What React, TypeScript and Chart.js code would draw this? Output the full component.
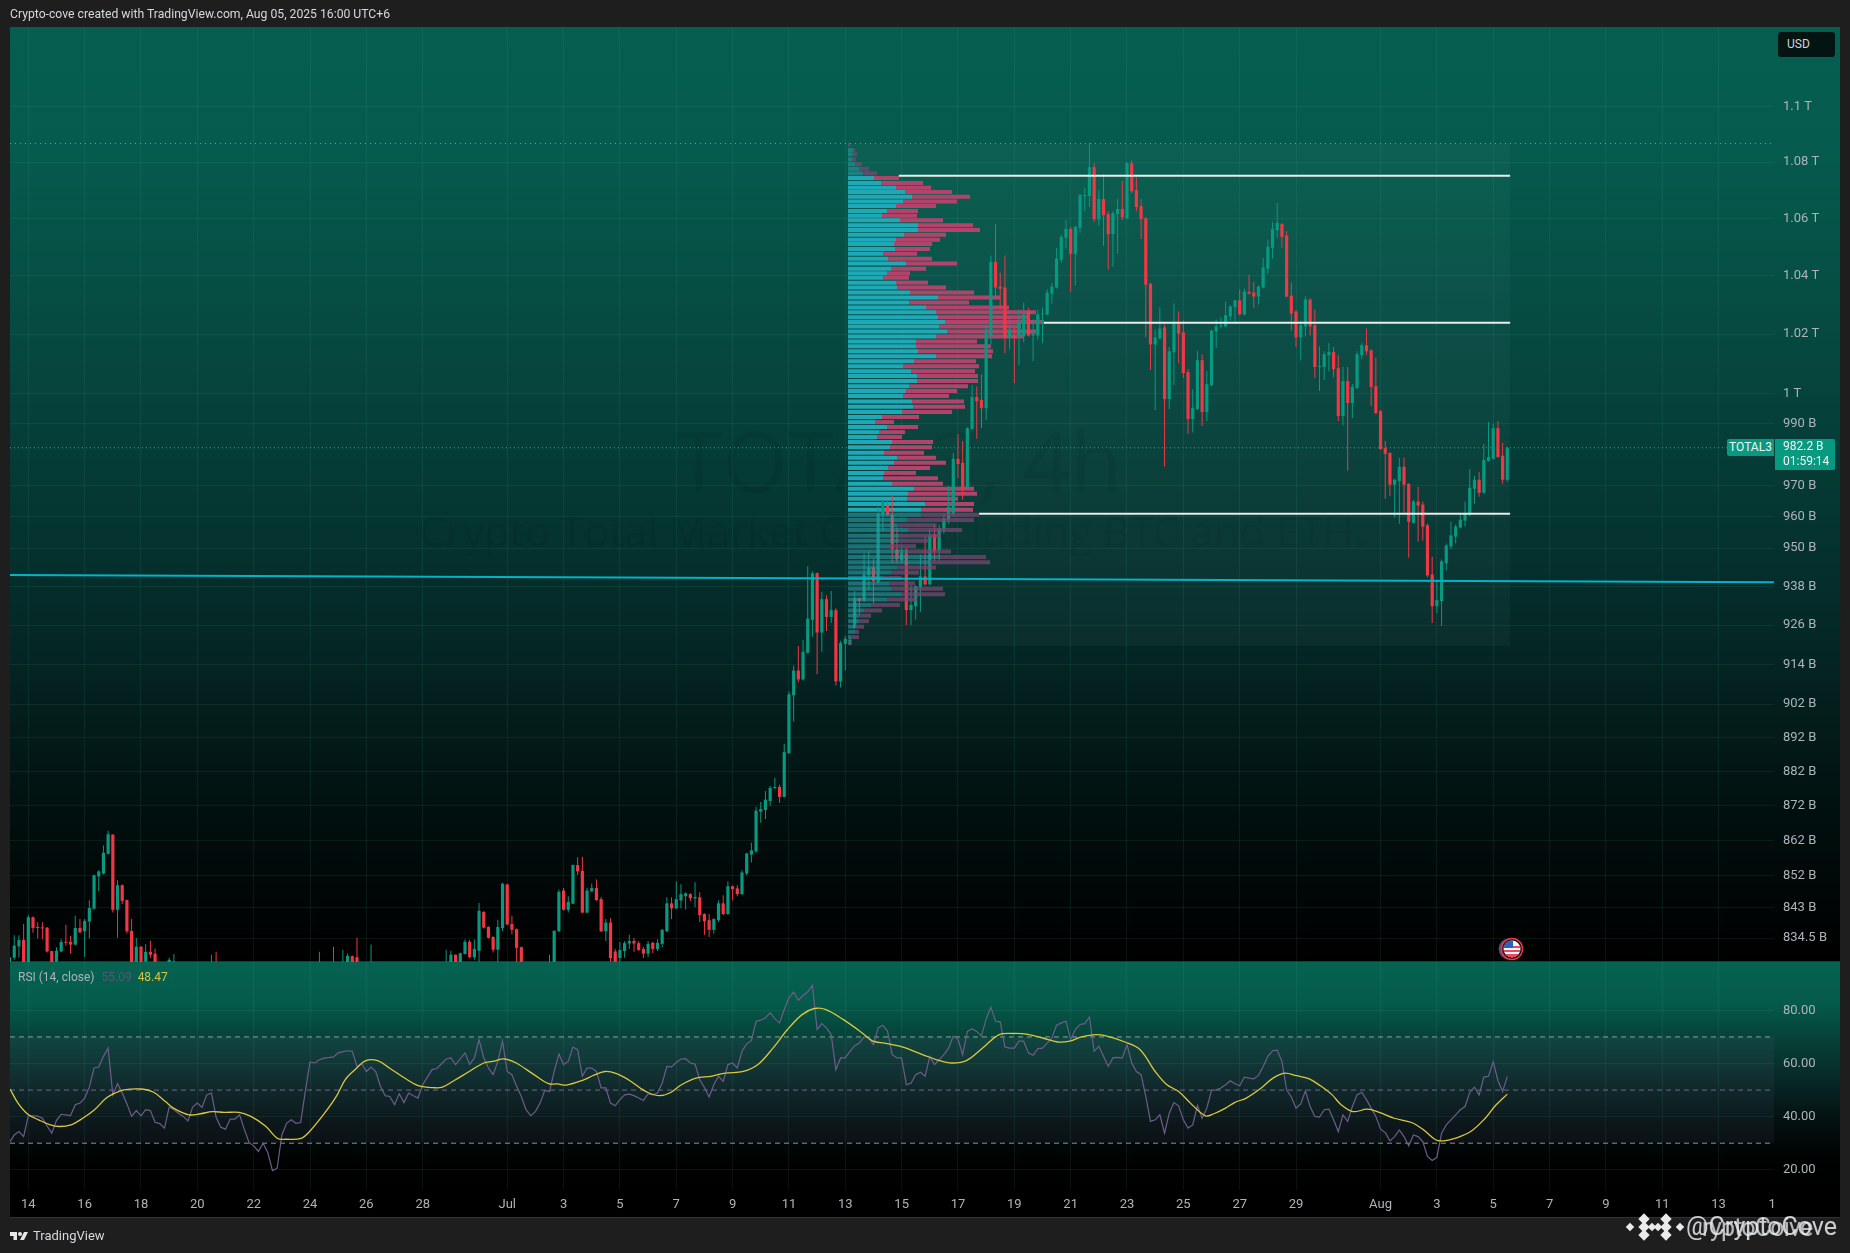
import React, { useEffect, useRef } from "react";
import { Chart, registerables } from "chart.js";

Chart.register(...registerables);

// ---------- candles (4H), prices in billions of USD ----------
const opens = [
  826,829.1,832.2,834,827,840.3,837.5,837.5,837.4,830.9,
  828,830.8,833.4,833.5,832.7,837.3,836.4,839.1,842.7,851.8,
  852.6,858.2,863.7,842.4,849.3,845.1,836.5,827.5,832.1,828,
  830.7,830.2,827,825,826,826,826,823,821,823,
  822,820,822,824,827,824,821,819,821,820,
  817,819,816,814,816,815,813,815,818,817,
  820,819,822,821,824,823,824,827,824,825,
  827,825,826,829.5,829.2,826,823,825,827,823,
  824,821,823,820,822,821,824,822,824,823,
  825,824,825,825,827,829.9,827,830.1,833.5,829.2,
  831,841.8,837.6,834.8,831.3,837.3,849.5,838.4,837,832,
  827,824,825,822,824,827,825.5,836.4,847.8,842.4,
  844.1,855,853.4,841.6,847.6,848.5,845.4,836.4,838.8,830.8,
  829,830.9,833,833.7,833.1,831.5,830.2,833.2,831.5,832.9,
  836.4,844.2,842.8,845,846.2,846.8,845.6,845.9,841.2,839.5,
  836.8,839.5,844.2,841.2,849,848.4,846.8,852.6,858,858.9,
  870.3,870.8,873.4,877.2,877.5,874.6,887.4,904.6,912.1,909.4,
  917.5,927.6,942.1,923.7,934,928.5,930.6,908.8,920.2,920,
  925.1,934.3,933.4,941.4,943.9,939.3,960.6,963.5,960.6,949.6,
  946.1,948.3,930.6,931.8,937.7,941.1,938.6,954.3,949.3,955.9,
  959,960.9,978.6,977.3,969.2,988.3,998.9,997.9,995.2,1019.2,
  1044.8,1036.2,1035.9,1018.9,1019.5,1019.2,1019.2,1027.7,1019.5,1019.5,
  1026.7,1026.7,1033.8,1035.9,1045.5,1053.2,1056.3,1047.6,1056.7,1067.9,
  1067.9,1078.2,1059.7,1066.8,1061.5,1054.5,1061.5,1063.3,1060,1079.6,
  1070,1064.3,1060,1037.2,1016.5,1018.5,1022.3,998.2,1013.9,1023.6,
  1020.6,1007.2,991.6,994.9,1011.2,993.9,1002.9,1020.9,1022.6,1022.6,
  1026,1029.1,1031.5,1026.7,1034.5,1034.2,1032.8,1035.9,1042.4,1049.7,
  1055.9,1058,1053.9,1033.1,1027.7,1018.9,1022.6,1031.8,1023,1008.9,
  1008.9,1012.9,1013.9,1008.5,992.6,1004.2,996.9,1001.9,1012.9,1016.2,
  1014.5,1002.5,994.2,982.1,980.5,970.2,971.4,976,970.5,958,
  964.8,963.8,957.2,941.7,931.8,933.4,945.2,950.5,953.6,956.5,
  958.7,960.6,968.9,971.8,967.6,977.9,978.6,988.6,979.6,971.8,
];
const closes = [
  829.2,832.4,834,826,840.3,837.3,837.3,837.2,830.8,827.5,
  831,833.4,833.2,832.7,837.3,836.1,839.3,842.9,852.1,853.2,
  858.5,863.8,842.4,849.3,844.9,836.4,827.5,832.1,827.8,830.7,
  829.9,827,825,824,828.5,828,823,821,823,822,
  820,822,824,827,824,821,819,821,820,817,
  819,816,814,816,815,813,815,818,817,820,
  819,822,821,824,823,825,827,824,825,827.5,
  824,827.8,829.6,826,826,823,825,827.5,823,824,
  821,823,820,822,821,824,822,824,823,825,
  824,825,825.5,827.5,829.9,827,830.3,833.5,829.3,831.5,
  842.1,837.4,834.6,831.3,837.6,849.7,838.3,836.8,831.8,827,
  824,825,822,824,823,824,836.5,847.4,842.4,844.6,
  855,853.2,841.6,847.8,848.5,845.1,836.4,838.8,829,827,
  831.2,833.1,833.7,833,831.2,830.2,832.9,831.5,833.2,836.8,
  844.2,842.8,845.4,846.8,847,845.6,846,840.9,839.2,836.8,
  839.8,844.2,841.2,849,848.2,846.8,852.9,858.3,859.2,870.6,
  871.1,873.8,877.2,877.5,874.6,887.7,904.9,912.1,909.4,917.8,
  928,942,923.7,934,928.5,930.6,908.8,920.5,921.8,921.5,
  934.3,933.4,941.7,943.9,939.6,960.9,964.8,960.6,949.6,946.4,
  948.3,930.6,932.2,938,941.1,938.6,954,949,956.2,959.3,
  963.1,978.6,976.9,969.2,988.6,998.9,997.5,995.2,1021.6,1044.8,
  1035.9,1035.5,1018.9,1021.6,1018.9,1024.3,1026.7,1019.5,1020.2,1026.7,
  1027,1034.2,1036.2,1045.9,1053.5,1056.3,1047.6,1057,1068.2,1068.2,
  1078.2,1059.7,1066.8,1061.1,1054.5,1061.8,1063.3,1060.4,1079.6,1069.6,
  1064,1059.7,1036.9,1016.5,1018.9,1021.9,998.2,1014.2,1023.6,1020.2,
  1006.9,991.6,995.2,1011.2,993.9,1003.2,1021.2,1022.6,1022.9,1026.4,
  1029.4,1031.5,1026.7,1034.5,1033.8,1032.8,1036.2,1042.8,1050,1056.3,
  1058.4,1053.5,1032.8,1027,1018.9,1023,1031.8,1022.6,1008.9,1009.2,
  1013.2,1013.9,1008.2,992.6,1004.2,996.9,1002.2,1013.2,1016.2,1014.2,
  1002.2,993.6,981.8,980.2,970.2,971.8,976,970.2,958.3,964.8,
  963.5,956.8,941.4,931.8,933.7,945.8,950.8,954,956.8,959,
  960.9,969.2,971.8,967.6,978.2,979.2,988.6,979.2,971.8,982.2,
];
const highs = [
  829.5,835.3,835.3,838.4,840.9,840.5,838.9,838.9,837.6,831,
  832,834.2,838.2,835.1,840.7,839.8,839.8,845.1,852.3,853.5,
  860.6,864.8,863.8,850.7,849.5,845.3,839.8,834.5,832.3,832.8,
  833.8,831.6,827.5,826.5,829.1,830.1,826.5,824,824,825,
  824,823,825,829.9,830.7,825,823,822,823,821,
  820,820,818,817,818,817,816,819,821,821,
  822,823,824,825,826,826,830.7,827.5,826,832.1,
  827.5,831.3,830.3,829.7,834.6,827,826,832.7,827.5,825,
  825,824,824,823,824,825,825,825,826,826,
  826,826,826.5,831.3,831,830,830.5,834.1,834,834.1,
  844.3,842,837.8,835,839.6,850,849.7,840.7,837.2,832.2,
  827.5,826,826,825,825,829.9,836.7,848.1,848.5,846.2,
  855.2,857.2,857.4,848.6,849.8,850.9,846,839.8,840,831.5,
  833.4,833.7,835.4,834.5,833.7,832.1,833.7,833.5,834.2,837,
  845.9,845.9,850.4,849.6,847.3,847,850.1,847.3,841.4,841.2,
  840,845,846.5,850.4,849.2,849.3,853.5,858.5,861.4,871.7,
  873.1,876.3,877.8,880.1,878.1,890.1,905.8,913.6,919.6,921.5,
  944.3,942.7,942.3,936.2,935.2,936.5,931.2,921.2,922.7,921.8,
  936.5,934.5,948.3,948.9,946.7,963.2,965.1,965.1,966.6,956.5,
  950.5,950.2,938.3,938.3,948,953.6,956.2,957.2,957.5,960.9,
  969.9,980.5,986.7,984.4,988.9,1002.9,1002.5,1006.5,1023.3,1047,
  1058,1041,1047,1026,1022.3,1028.4,1030.8,1029.1,1025,1028.4,
  1029.1,1035.2,1037.6,1049.7,1054.2,1059.4,1057,1057.4,1068.6,1070.7,
  1086.9,1079.6,1070,1075.7,1062.5,1062.5,1066.8,1073.2,1080,1080.7,
  1074.6,1066.8,1060.4,1037.6,1021.6,1029.1,1023.3,1015.6,1030.4,1027.7,
  1024.6,1008.2,1001.5,1014.5,1013.2,1007.5,1021.6,1025,1025.7,1031.1,
  1029.8,1031.6,1035.2,1035.6,1040.3,1037.9,1036.6,1046.2,1052.5,1058.7,
  1065.4,1058.4,1055.6,1037.6,1028,1024.6,1032.8,1032.1,1028.4,1015.9,
  1014.2,1016.9,1015.6,1012.9,1008.9,1008.9,1003.2,1014.2,1016.9,1021.9,
  1014.9,1011.9,994.6,984.4,980.7,972.1,978.9,978.9,970.7,965.4,
  969.5,964.8,957.7,947.3,939.9,946.4,951.4,958.4,957.5,960.9,
  964.8,975.3,973.1,974.3,983.5,990.6,990,991,983.8,982.5,
];
const lows = [
  824,828.5,829.1,825,825,836,834.4,834.2,830.5,826,
  826,830.6,832.4,830.2,832.5,835.9,829.3,834.4,842.5,847.6,
  852.3,858,841.6,834.6,844,835.8,826,826,826.5,827,
  829,826,824,823,825,825,822,820,820,821,
  819,819,821,823,823,820,818,818,819,816,
  815,815,813,813,814,812,811,814,816,816,
  818,818,820,820,822,822,822,823,822,824,
  823,824,825,825,825,822,822,824,822,821,
  820,820,819,819,820,820,821,821,822,822,
  823,823,824,824,826,826,826.5,830,829,828.5,
  827,837.2,834.4,830.5,827,836.5,838.1,835.5,827,826,
  823,822,821,821,821,823,825,836.2,842.2,841.6,
  844,852.2,841.4,841.4,847.4,844.9,836.2,833.6,828,826,
  827,829.1,831.5,830.7,831,829,829.3,830.4,830.9,832,
  836.2,839.8,842.6,842.8,842.5,844.8,843.1,839,835.4,834.8,
  835.7,839,840.9,841,845,846.2,846.5,852.1,855.7,858.5,
  867.1,868.2,872,876.9,872.9,874.4,887.2,896.8,908.5,909.2,
  917.3,922.4,911,917.8,924.2,926.6,907.6,907,912.1,919.8,
  925,929.1,933.2,936.8,932.7,939,955.3,960.2,945.2,945.2,
  945.2,926,926,927.6,930,938.3,938.3,945.8,945.8,954.6,
  957.7,960,972.4,965.4,969,988.2,985.1,988.6,991.3,1016.5,
  1031.8,1028.4,1013.5,1014.9,1003.5,1009.5,1017.2,1019.2,1010.8,1018.2,
  1016.9,1026.3,1030.4,1035.6,1044.5,1049.4,1034.5,1036.6,1054.9,1062.5,
  1064,1058.7,1057.4,1050.4,1042.1,1043.1,1047.6,1059.4,1059.8,1068.9,
  1062.5,1052.8,1018.9,1007.9,994.6,1018.2,976,994.9,1002.9,1010.2,
  1005.2,986.7,987.3,994.6,989.3,991,1002.5,1015.2,1021.9,1022.3,
  1024.6,1024.3,1026.3,1026.3,1033.5,1028.8,1030.1,1035.6,1040.7,1045.9,
  1053.2,1049.7,1032.6,1021.2,1015.6,1011.2,1019.2,1019.5,1005.2,1000.9,
  1004.5,1007.5,1005.5,991,989.6,974.7,991.9,1001.5,1011.5,1012.9,
  995.9,993.2,981.5,965.7,966.6,959.6,957.7,961.2,947,957.7,
  952,952.4,940.8,926.6,929.7,925.7,943,949.6,951.4,956.2,
  956.8,960.2,964.1,966.3,967.3,977.6,978.3,978.9,970.5,971.1,
];

// ---------- RSI (14) and its moving average ----------
const rsiValues = [
  30.3,33.1,34.4,32.5,40.3,40.3,40.2,39.4,36.5,33.8,
  38.6,40.9,40.7,40.4,44.5,45.1,47,51.1,58.3,58.7,
  62.7,65.8,48.2,52.4,48.9,44.8,40.1,42.3,40.3,42.6,
  42.3,37.9,37.4,35.7,43.6,42.6,41.3,40.1,38.4,43.6,
  45.1,43.5,48.2,48.9,39.8,36,35.3,39.1,39.1,40.7,
  35.3,30.3,29,26.9,30,26.5,19.7,20.6,33.1,37.5,
  38.8,37.5,37.8,49.5,60.6,60.2,61.4,62,62.2,62.5,
  64,64.5,64.8,64.6,58.9,59.9,57,58.7,57,51.4,
  47.9,47.6,44.5,48.6,45.3,48.9,47.9,47,52,54.9,
  57.7,58.1,59.9,61.7,62.1,59.6,61.7,64,59.6,62.1,
  69,62.1,58.3,55.8,60.8,68.4,57,55.8,51.4,47.6,
  42.6,40.4,41.9,45.1,49.9,49.5,57,63.6,59.6,60.8,
  66.2,65.2,55.2,58.3,58.3,57,50.8,50.8,45.1,44.1,
  46.4,48.2,48.5,47.9,47,46.1,48.6,48.2,48.9,52.6,
  58.9,58.7,60.4,61.7,61.8,60.2,59.8,53.9,51,47.4,
  52,55.2,53.3,59.6,60.2,58.3,64.6,67.4,68.6,75.9,
  76.3,77.2,79.1,76.8,75.3,80.3,84.7,86.9,83.8,85.6,
  87,89.4,72.8,75,73.4,70.9,57.7,62.1,62.1,64.6,
  66.7,67.7,70,69.6,67.1,73.4,74.4,72.1,63.3,62.1,
  62.1,52,52.6,55.8,56.7,55.2,62.7,59.6,61.4,63.3,
  65.8,70.3,69.2,63.3,72.1,73.1,72.1,70.3,76.8,81.2,
  75.9,75.7,66.2,65.8,65.8,68.4,68.4,64,63.1,65.6,
  65.8,67.7,69.6,74.4,75.3,75.9,69,72.8,74.7,75,
  77.5,64.6,66.5,62.7,58.9,62.1,62.3,62,67.1,60.2,
  57,55.8,47.6,38.2,38.8,40.7,33.8,41.3,45.3,44.1,
  38.8,35.7,36.9,44.2,39.4,43.2,49.9,50.1,50.8,52,
  53.5,52.4,51.6,54.9,54.5,54.2,55.5,58.9,62.7,64.8,
  65,60.8,50.1,47.4,43.2,44.8,49.7,43.8,40.1,39.8,
  42.6,42.8,38.8,34.4,40.7,38.2,43.8,48.2,49.2,46.4,
  43.2,40.1,35.3,34,30.9,32.5,35,32.5,29,33.1,
  32.5,30.6,25,23.5,24.7,33.8,36.9,38.8,40.7,42.6,
  43.8,49.1,51.1,48.2,54.9,55.2,60.6,53.6,49.5,55.09,
];
const smaIndex = [
  0.1,1.8,3.9,6.2,8.7,10.6,13.1,15.6,18.1,20.6,22.5,24.4,28.1,30.7,33.2,35.1,38.2,40.7,43.2,45.7,
  48.9,51.4,54.5,57,58.9,62.1,63.9,67.1,69.6,71.5,73.4,75.9,78.4,80.9,84.7,87.2,90.3,92.2,94.7,97.9,
  101,102.9,105.4,107.9,111.7,114.8,116.7,118.6,122.4,124.2,126.8,129.3,131.8,134.3,136.2,138.4,140.6,143.1,146.2,149.4,
  152.5,156.3,159.4,162.6,165.7,168.8,171.4,173.9,177.6,181.4,183.9,186.4,189.6,192.7,195,197.5,200.6,203.8,207.5,210.7,
  213.8,216.9,220.1,223.2,225.8,228.3,230.8,233.3,237.7,240.8,244,246.5,249,251.5,254.7,256.5,259,260.9,263.4,266.6,
  269.1,271.6,274.1,276.7,279.2,281.7,283.6,286.1,289.2,291.7,294.9,298.6,301.2,303.7,305.5,308,311.2,314.3,316.3,319,
];
const smaValues = [
  50.4,45.1,40.9,38.8,36.9,36.3,36.9,39.4,42.6,47,48.9,50.1,50.4,49.2,45.7,43,40.7,41.1,41.9,41.6,
  41.6,40.1,36.5,31.9,31.5,31.8,34.4,41.3,47.6,53.9,57.4,61.1,61.1,58.3,53.9,51.6,50.9,51.1,53.6,57,
  60.2,60.8,61.7,60.2,55.8,52.4,52.3,51.9,53.9,55.4,57,56.2,53.9,50.8,48.9,47.9,48.9,52,54.5,55.2,
  56.4,57,59.6,65.8,72.8,78.4,80.7,80.3,76.5,71.8,68.4,67.7,66.5,64.6,63,61.4,60.2,61.1,66.2,70.8,
  71.3,71,69.6,68.1,68.4,70,70.8,70.5,68,65.2,57,52,49.5,45.1,40.3,41.1,43.2,45.3,47,50.8,
  54.5,56.4,55.4,54.3,51.6,48.2,44.5,41.9,42.8,41.6,39.4,37.8,35,31.3,30.9,31.9,34.4,39.4,43.8,48.47,
];

// ---------- volume profile ----------
const profilePrices = [
  1086.3,1084.3,1082.8,1081,1079.3,1077.6,1076,1074.3,1072.5,1070.8,1069.3,1067.6,1066,1064.4,1062.6,1060.9,1059.3,1057.6,1055.9,1054.2,
  1052.5,1051,1049.3,1047.6,1045.9,1044.2,1042.4,1040.8,1039.3,1037.6,1035.9,1034.2,1032.5,1030.8,1029.1,1027.4,1025.7,1024.1,1022.6,1020.9,
  1019.2,1017.5,1015.9,1014.2,1012.5,1010.8,1009.2,1007.5,1005.9,1004.2,1002.5,1000.9,999.2,997.4,995.7,993.9,992.3,990.6,989,987.3,
  985.7,984.1,982.4,980.6,978.9,977.3,975.6,974,972.3,970.5,968.9,967.3,965.7,964,962.2,960.6,958.9,957.2,955.7,953.9,
  952.3,950.6,948.9,947.2,945.5,943.9,942.3,940.6,938.9,937.2,935.5,933.9,932.2,930.5,928.9,927.2,925.5,923.9,922.3,920.6,
];
const volumeUp = [
  0,14,14,12,21,33,44,78,99,144,171,192,165,144,117,102,156,210,210,168,
  144,138,141,105,120,174,129,117,105,144,147,186,270,183,234,264,270,291,273,297,
  264,204,204,210,264,198,165,189,207,207,183,174,165,192,195,162,102,81,117,93,
  87,132,126,108,147,138,120,108,105,132,198,180,177,231,219,219,177,147,180,153,
  153,126,180,276,243,147,129,105,124,129,159,118,71,48,33,33,21,21,9,0,
];
const volumeDown = [
  6,7,13,12,21,30,43,75,126,105,141,174,162,120,93,105,129,165,186,126,
  132,114,105,102,132,153,105,69,78,96,147,192,186,180,249,300,270,297,246,267,
  264,183,225,225,168,186,228,192,183,183,177,153,138,156,156,150,111,57,93,78,
  75,123,126,120,117,156,126,96,165,153,180,207,153,147,156,174,201,119,162,126,
  87,78,129,138,183,117,84,55,77,156,132,89,85,54,36,30,27,12,24,9,
];

// ---------- axes, levels, labels ----------
const priceTicks = [1100,1080,1060,1040,1020,1000,990,970,960,950,938,926,914,902,892,882,872,862,852,843,834.5];
const priceLabels = ["1.1 T","1.08 T","1.06 T","1.04 T","1.02 T","1 T","990 B","970 B","960 B","950 B","938 B","926 B","914 B","902 B","892 B","882 B","872 B","862 B","852 B","843 B","834.5 B"];
const rsiTicks = [20,40,60,80];
const dateTickIndex = [4,16,28,40,52,64,76,88,106,118,130,142,154,166,178,190,202,214,226,238,250,262,274,292,304,316,328,340,352,364,375.4];
const dateTickLabels = ["14","16","18","20","22","24","26","28","Jul","3","5","7","9","11","13","15","17","19","21","23","25","27","29","Aug","3","5","7","9","11","13","1"];
const whiteLevels = [1075.1,1023.85,960.9];
const whiteLevelStarts = [189.4,220.3,206.5];
const trendLine = { x: [0.1,375.8], y: [941.5,939.3] };
const profileBox = { left: 178.6, right: 319.6, top: 1086.7, bottom: 919.6 };
const lastPrice = 982.2;
const rangeHigh = 1086.7;
const rsiBands = [70,50,30];
const X_MIN = 0.1, X_MAX = 375.8;

const UP = "#089981", DOWN = "#f23645";
const AXIS_FONT = { family: "Roboto, 'Open Sans', sans-serif", size: 13 };
const AXIS_COLOR = "#aeb3ba";
const GRID = "rgba(110,210,190,0.085)";

const idx = opens.map((_, i) => i);
const candleColor = idx.map((i) => (closes[i] >= opens[i] ? UP : DOWN));
const isBright = (p: number) => p <= 1075 && p >= 961.5;

function level(xs: number[], ys: number[], color: string, width: number, dash: number[], axis = "y", order = 0) {
  return {
    type: "line" as const,
    data: xs.map((x, i) => ({ x, y: ys[i] })),
    borderColor: color,
    borderWidth: width,
    borderDash: dash,
    pointRadius: 0,
    yAxisID: axis,
    xAxisID: "x",
    order,
    tension: 0,
  };
}

function profileDataset(bright: boolean, part: "up" | "down", color: string, order: number) {
  const data: any[] = [];
  profilePrices.forEach((p, i) => {
    if (isBright(p) !== bright) return;
    const a = volumeUp[i];
    const b = volumeDown[i];
    data.push({ y: p, x: part === "up" ? [0, a] : [a, a + b] });
  });
  return {
    type: "bar" as const,
    indexAxis: "y" as const,
    data,
    backgroundColor: color,
    barThickness: 4,
    grouped: false,
    xAxisID: "xVol",
    yAxisID: "y",
    order,
    inflateAmount: 0,
    minBarLength: 0,
  };
}

const panelPlugin = {
  id: "panels",
  beforeDraw(chart: any) {
    const c = chart.ctx as CanvasRenderingContext2D;
    const x0 = 10, x1 = 1840;
    const g = c.createLinearGradient(0, 27, 0, 962);
    g.addColorStop(0, "#055e50");
    g.addColorStop(0.12, "#055c4e");
    g.addColorStop(0.3, "#064c43");
    g.addColorStop(0.43, "#053f39");
    g.addColorStop(0.65, "#042826");
    g.addColorStop(0.75, "#031c1a");
    g.addColorStop(0.84, "#01100f");
    g.addColorStop(0.93, "#010606");
    g.addColorStop(1, "#000000");
    c.fillStyle = g;
    c.fillRect(x0, 27, x1 - x0, 935);
    const r = c.createLinearGradient(0, 962, 0, 1190);
    r.addColorStop(0, "#056352");
    r.addColorStop(0.18, "#055a4b");
    r.addColorStop(0.33, "#064238");
    r.addColorStop(0.5, "#072a28");
    r.addColorStop(0.68, "#031312");
    r.addColorStop(0.85, "#000303");
    r.addColorStop(1, "#000000");
    c.fillStyle = r;
    c.fillRect(x0, 962, x1 - x0, 228);
    c.fillStyle = "#000000";
    c.fillRect(x0, 1190, x1 - x0, 27);
    c.fillStyle = "#2f3236";
    c.fillRect(x0, 961, x1 - x0, 1);
    c.fillRect(x0, 1217, x1 - x0, 1);
  },
  beforeDatasetsDraw(chart: any) {
    const c = chart.ctx as CanvasRenderingContext2D;
    const { x, y, yr } = chart.scales;
    c.save();
    c.fillStyle = "rgba(0,0,0,0.055)";
    c.textAlign = "center";
    c.textBaseline = "middle";
    c.font = "84px 'Open Sans', sans-serif";
    c.fillText("TOTAL3, 4h", 899, 468);
    c.font = "42px 'Open Sans', sans-serif";
    c.fillText("Crypto Total Market Cap Excluding BTC and ETH.", 892, 535);
    // box of the fixed range volume profile
    const bx = x.getPixelForValue(profileBox.left);
    const bw = x.getPixelForValue(profileBox.right) - bx;
    const by = y.getPixelForValue(profileBox.top);
    const bh = y.getPixelForValue(profileBox.bottom) - by;
    c.fillStyle = "rgba(160,220,210,0.045)";
    c.fillRect(bx, by, bw, bh);
    // RSI 30-70 band
    const top = yr.getPixelForValue(70);
    const bot = yr.getPixelForValue(30);
    c.fillStyle = "rgba(150,130,190,0.07)";
    c.fillRect(x.left, top, x.right - x.left, bot - top);
    c.restore();
  },
  afterDatasetsDraw(chart: any) {
    // economic-event flag on the time line
    const c = chart.ctx as CanvasRenderingContext2D;
    const { x } = chart.scales;
    const cx = x.getPixelForValue(320);
    const cy = 949;
    c.save();
    c.beginPath(); c.arc(cx - 3, cy, 10.5, 0, Math.PI * 2); c.fillStyle = "#5a4a72"; c.fill();
    c.beginPath(); c.arc(cx, cy, 10.5, 0, Math.PI * 2); c.fillStyle = "#0b0b10"; c.fill();
    c.lineWidth = 1.4; c.strokeStyle = "#f23645"; c.stroke();
    c.beginPath(); c.arc(cx, cy, 8.5, 0, Math.PI * 2); c.clip();
    c.fillStyle = "#f4f4f4"; c.fillRect(cx - 9, cy - 9, 18, 18);
    c.fillStyle = "#e84a5f";
    c.fillRect(cx - 9, cy - 3, 18, 2); c.fillRect(cx - 9, cy + 1, 18, 2); c.fillRect(cx - 9, cy + 5, 18, 3);
    c.fillStyle = "#2a62c4"; c.fillRect(cx - 9, cy - 9, 10, 8);
    c.restore();
  },
};

function labelStyle(extra: React.CSSProperties): React.CSSProperties {
  return { position: "absolute", whiteSpace: "nowrap", fontFamily: "Roboto, 'Open Sans', sans-serif", ...extra };
}

export default function App() {
  const ref = useRef<HTMLCanvasElement>(null);
  useEffect(() => {
    document.body.style.margin = "0";
    document.body.style.background = "#1e1e1e";
    const chart = new Chart(ref.current as HTMLCanvasElement, {
      type: "bar",
      data: {
        datasets: [
          {
            type: "bar",
            data: idx.map((i) => ({ x: i, y: [lows[i], highs[i]] })),
            backgroundColor: candleColor,
            barThickness: 1,
            grouped: false,
            xAxisID: "x",
            yAxisID: "y",
            order: 4,
            inflateAmount: 0,
          },
          {
            type: "bar",
            data: idx.map((i) => ({ x: i, y: [opens[i], closes[i]] })),
            backgroundColor: candleColor,
            barThickness: 3.2,
            grouped: false,
            minBarLength: 1,
            xAxisID: "x",
            yAxisID: "y",
            order: 3,
            inflateAmount: 0,
          },
          profileDataset(true, "up", "#1fa9b6", 6),
          profileDataset(true, "down", "#b2446b", 6),
          profileDataset(false, "up", "rgba(40,150,160,0.62)", 2),
          profileDataset(false, "down", "rgba(125,70,115,0.72)", 2),
          ...whiteLevels.map((p, i) => level([whiteLevelStarts[i], profileBox.right], [p, p], "#ececec", 2, [], "y", 1)),
          level(trendLine.x, trendLine.y, "#00b5c9", 2, [], "y", 1),
          level([X_MIN, X_MAX], [rangeHigh, rangeHigh], "rgba(190,215,205,0.55)", 1, [1, 4], "y", 8),
          level([X_MIN, X_MAX], [lastPrice, lastPrice], "rgba(40,190,160,0.85)", 1, [1, 3], "y", 8),
          level([X_MIN, X_MAX], [rsiBands[0], rsiBands[0]], "rgba(205,215,215,0.65)", 1, [5, 4], "yr", 8),
          level([X_MIN, X_MAX], [rsiBands[1], rsiBands[1]], "rgba(160,125,185,0.7)", 1, [5, 4], "yr", 8),
          level([X_MIN, X_MAX], [rsiBands[2], rsiBands[2]], "rgba(205,215,215,0.65)", 1, [5, 4], "yr", 8),
          {
            type: "line",
            data: rsiValues.map((v, i) => ({ x: i, y: v })),
            borderColor: "#6f5c8a",
            borderWidth: 1.2,
            pointRadius: 0,
            tension: 0,
            xAxisID: "x",
            yAxisID: "yr",
            order: 1,
          },
          {
            type: "line",
            data: smaValues.map((v, i) => ({ x: smaIndex[i], y: v })),
            borderColor: "#dcc63e",
            borderWidth: 1.3,
            pointRadius: 0,
            tension: 0.35,
            xAxisID: "x",
            yAxisID: "yr",
            order: 0,
          },
        ] as any,
      },
      options: {
        animation: false,
        responsive: false,
        devicePixelRatio: 1,
        normalized: false,
        layout: { autoPadding: false, padding: { left: 10, top: 27, right: 10, bottom: 36 } },
        plugins: { legend: { display: false }, tooltip: { enabled: false }, title: { display: false } },
        scales: {
          x: {
            type: "linear",
            position: "bottom",
            offset: false,
            min: X_MIN,
            max: X_MAX,
            bounds: "data",
            afterBuildTicks: (s: any) => { s.ticks = dateTickIndex.map((value) => ({ value })); },
            afterFit: (s: any) => { s.height = 27; },
            ticks: {
              autoSkip: false,
              maxRotation: 0,
              minRotation: 0,
              padding: 7,
              color: AXIS_COLOR,
              font: AXIS_FONT,
              callback: (v: any) => dateTickLabels[dateTickIndex.indexOf(v)],
            },
            grid: {
              offset: false,
              color: (ctx: any) => (ctx.tick && ctx.tick.value === 375.4 ? "rgba(0,0,0,0)" : GRID),
              drawTicks: false,
            },
            border: { display: false },
          },
          xVol: {
            type: "linear",
            axis: "x",
            display: false,
            offset: false,
            min: -2514,
            max: 2778,
            bounds: "data",
            grid: { display: false },
          },
          y: {
            type: "logarithmic",
            position: "right",
            stack: "panes",
            stackWeight: 935,
            offset: false,
            min: 827.9,
            max: 1129.6,
            bounds: "data",
            afterBuildTicks: (s: any) => { s.ticks = priceTicks.map((value) => ({ value })); },
            afterFit: (s: any) => { s.width = 66; },
            ticks: {
              autoSkip: false,
              padding: 9,
              color: AXIS_COLOR,
              font: AXIS_FONT,
              callback: (v: any) => priceLabels[priceTicks.indexOf(v)],
            },
            grid: { offset: false, color: GRID, drawTicks: false },
            border: { display: false },
          },
          yr: {
            type: "linear",
            position: "right",
            stack: "panes",
            stackWeight: 228,
            min: 12.4,
            max: 98.2,
            bounds: "data",
            afterBuildTicks: (s: any) => { s.ticks = rsiTicks.map((value) => ({ value })); },
            afterFit: (s: any) => { s.width = 66; },
            ticks: {
              autoSkip: false,
              padding: 9,
              color: AXIS_COLOR,
              font: AXIS_FONT,
              callback: (v: any) => Number(v).toFixed(2),
            },
            grid: { color: GRID, drawTicks: false },
            border: { display: false },
          },
        } as any,
      },
      plugins: [panelPlugin],
    } as any);
    return () => chart.destroy();
  }, []);

  return (
    <div style={{ position: "absolute", left: 0, top: 0, width: 1850, height: 1253, background: "#1e1e1e", overflow: "hidden" }}>
      <canvas ref={ref} width={1850} height={1253} style={{ position: "absolute", left: 0, top: 0, width: 1850, height: 1253 }} />
      <div style={labelStyle({ left: 10, top: 7, fontSize: 12.2, color: "#d6d8dc" })}>Crypto-cove created with TradingView.com, Aug 05, 2025 16:00 UTC+6</div>
      <div style={labelStyle({ left: 1778, top: 32, width: 57, height: 25, background: "#041412", borderRadius: 3, color: "#d1d4dc", fontSize: 12, lineHeight: "25px", textIndent: 9 })}>USD</div>
      <div style={labelStyle({ left: 1727, top: 439, width: 47, height: 17, background: "#089981", borderRadius: "2px 0 0 2px", color: "#f2f5f4", fontSize: 12, lineHeight: "17px", textAlign: "center" })}>TOTAL3</div>
      <div style={labelStyle({ left: 1775, top: 439, width: 60, height: 31, background: "#089981", borderRadius: "0 2px 2px 0", color: "#f2f5f4", fontSize: 12, lineHeight: "15px", textIndent: 8 })}>
        <div>982.2 B</div>
        <div>01:59:14</div>
      </div>
      <div style={labelStyle({ left: 18, top: 970, fontSize: 12, color: "#aeb3ba" })}>
        RSI (14, close)
        <span style={{ marginLeft: 7, color: "#5f5376" }}>55.09</span>
        <span style={{ marginLeft: 6, color: "#d9c43c" }}>48.47</span>
      </div>
      <svg style={{ position: "absolute", left: 10, top: 1229 }} width="18" height="14" viewBox="0 0 36 28">
        <path fill="#e8e8e8" d="M14 6H0v8h7v8h7V6Zm14 16H20l8-16h8l-8 16Zm-8-8a4 4 0 1 0 0-8 4 4 0 0 0 0 8Z" />
      </svg>
      <div style={labelStyle({ left: 33, top: 1228, fontSize: 13, color: "#d6d8dc" })}>TradingView</div>
      <svg style={{ position: "absolute", left: 1625, top: 1212 }} width="62" height="30" viewBox="0 0 62 30">
        {[0, 22].map((o) => (
          <g key={o} fill="#e9eaeb" transform={`translate(${o} 0)`}>
            <rect x="-4" y="-4" width="8" height="8" transform="translate(19 7) rotate(45)" />
            <rect x="-4" y="-4" width="8" height="8" transform="translate(19 23) rotate(45)" />
            <rect x="-3" y="-3" width="6" height="6" transform="translate(5 15) rotate(45)" />
            <rect x="-3" y="-3" width="6" height="6" transform="translate(33 15) rotate(45)" />
            <rect x="-4" y="-4" width="8" height="8" transform="translate(19 15) rotate(45)" />
          </g>
        ))}
      </svg>
      <div style={labelStyle({ left: 1686, top: 1212, fontSize: 25, color: "rgba(235,236,238,0.85)" })}>@CryptoCove</div>
      <div style={labelStyle({ left: 1702, top: 1213, fontSize: 25, letterSpacing: -0.8, color: "rgba(235,236,238,0.75)" })}>ryptoCoive</div>
    </div>
  );
}
